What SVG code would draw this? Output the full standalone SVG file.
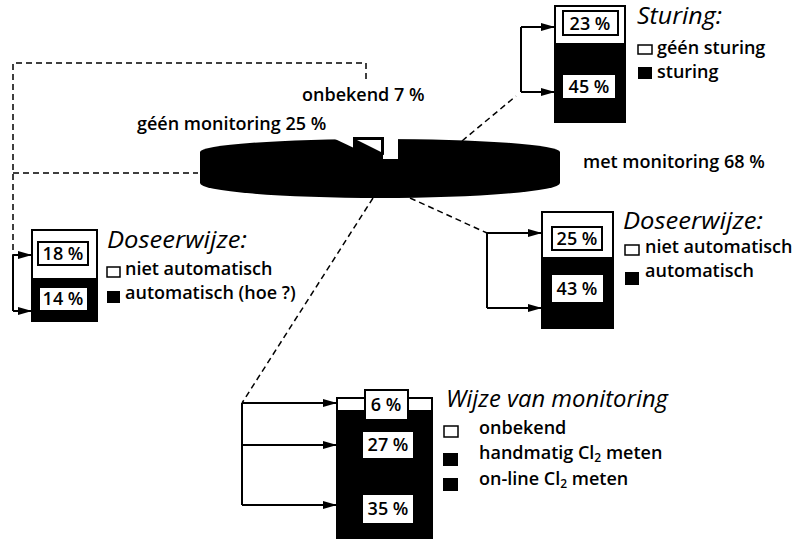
<svg xmlns="http://www.w3.org/2000/svg" width="805" height="539" viewBox="0 0 805 539">
  <style>
    text { font-family: "Open Sans", "Liberation Sans", sans-serif; fill: #000; }
    .lbl { font-size: 18px; font-weight: 600; }
    .pct { font-size: 18px; font-weight: 600; text-anchor: middle; }
    .head { font-size: 23px; font-style: italic; }
    .dash { fill: none; stroke: #000; stroke-width: 1.5; stroke-dasharray: 6 4; }
    .solid { fill: none; stroke: #000; stroke-width: 2; }
    .frame { fill: #fff; stroke: #000; stroke-width: 2; }
    .blk { fill: #000; }
    .wbox { fill: #fff; }
    .obox { fill: #fff; stroke: #000; stroke-width: 2; }
    .sw { fill: #fff; stroke: #000; stroke-width: 1.5; }
  </style>
  <defs>
    <marker id="arrow" viewBox="0 0 14 8" refX="14" refY="4" markerWidth="14" markerHeight="8" markerUnits="userSpaceOnUse" orient="auto">
      <path d="M0,0 L14,4 L0,8 Z" fill="#000"/>
    </marker>
  </defs>

  <rect width="805" height="539" fill="#fff"/>

  <!-- connectors -->
  <g id="connectors">
    <path class="dash" d="M366,79 V63 H13 V255"/>
    <path class="dash" d="M13,173 H198"/>
    <path class="dash" d="M462,141 L516,96"/>
    <path class="dash" d="M410,198 L487,233"/>
    <path class="dash" d="M373,198 L242,403"/>
    <path class="solid" d="M521,27 V92" />
    <path class="solid" d="M521,27 H555" marker-end="url(#arrow)"/>
    <path class="solid" d="M521,92 H555" marker-end="url(#arrow)"/>
    <path class="solid" d="M13,255 V311"/>
    <path class="solid" d="M13,255 H32" marker-end="url(#arrow)"/>
    <path class="solid" d="M13,311 H32" marker-end="url(#arrow)"/>
    <path class="solid" d="M487,233 V308"/>
    <path class="solid" d="M487,233 H542" marker-end="url(#arrow)"/>
    <path class="solid" d="M487,308 H542" marker-end="url(#arrow)"/>
    <path class="solid" d="M242,403 V505"/>
    <path class="solid" d="M242,403 H337" marker-end="url(#arrow)"/>
    <path class="solid" d="M242,445 H337" marker-end="url(#arrow)"/>
    <path class="solid" d="M242,505 H337" marker-end="url(#arrow)"/>
  </g>

  <!-- pie chart: thick disc with the 'onbekend' slice lifted out -->
  <g id="pie">
    <ellipse class="blk" cx="380" cy="183" rx="180" ry="15"/>
    <rect class="blk" x="200" y="152" width="360" height="31"/>
    <ellipse class="blk" cx="380" cy="152" rx="180" ry="13"/>
    <polygon fill="#fff" points="333,120 354,120 354,148 335,139"/>
    <rect fill="#fff" x="383" y="120" width="15" height="39"/>
    <polygon class="blk" points="353,137 384,137 384,155 353,148"/>
    <polygon fill="#fff" points="357,140 381,140 381,152"/>
    <text class="lbl" x="302" y="101">onbekend 7 %</text>
    <text class="lbl" x="137" y="130">géén monitoring 25 %</text>
    <text class="lbl" x="583" y="168">met monitoring 68 %</text>
  </g>

  <!-- Sturing -->
  <g id="sturing">
    <rect class="frame" x="555" y="6" width="70" height="116"/>
    <rect class="blk" x="555" y="43" width="70" height="79"/>
    <rect class="obox" x="563" y="11" width="55" height="24"/>
    <text class="pct" x="590" y="30">23 %</text>
    <rect class="wbox" x="563" y="75" width="52" height="23"/>
    <text class="pct" x="589" y="93">45 %</text>
    <text class="head" x="637" y="24" font-size="21" textLength="85" lengthAdjust="spacingAndGlyphs">Sturing:</text>
    <rect class="sw" x="638" y="45" width="14" height="9"/>
    <text class="lbl" x="657" y="54">géén sturing</text>
    <rect class="blk" x="638" y="67" width="14" height="12"/>
    <text class="lbl" x="657" y="78">sturing</text>
  </g>

  <!-- Doseerwijze (zonder monitoring) -->
  <g id="doseerwijze-links">
    <rect class="frame" x="32" y="230" width="65" height="91"/>
    <rect class="blk" x="32" y="278" width="65" height="43"/>
    <rect class="obox" x="38" y="242" width="50" height="23"/>
    <text class="pct" x="63" y="260">18 %</text>
    <rect class="wbox" x="40" y="288" width="47" height="22"/>
    <text class="pct" x="63" y="305">14 %</text>
    <text class="head" x="107" y="248" textLength="140" lengthAdjust="spacingAndGlyphs">Doseerwijze:</text>
    <rect class="sw" x="107" y="267" width="13" height="10"/>
    <text class="lbl" x="125" y="275">niet automatisch</text>
    <rect class="blk" x="107" y="291" width="13" height="12"/>
    <text class="lbl" x="125" y="299">automatisch (hoe ?)</text>
  </g>

  <!-- Doseerwijze (met monitoring) -->
  <g id="doseerwijze-rechts">
    <rect class="frame" x="542" y="212" width="71" height="116"/>
    <rect class="blk" x="542" y="257" width="71" height="71"/>
    <rect class="obox" x="552" y="227" width="50" height="23"/>
    <text class="pct" x="577" y="245">25 %</text>
    <rect class="wbox" x="552" y="275" width="51" height="27"/>
    <text class="pct" x="577" y="295">43 %</text>
    <text class="head" x="623" y="229" textLength="140" lengthAdjust="spacingAndGlyphs">Doseerwijze:</text>
    <rect class="sw" x="625" y="245" width="14" height="10"/>
    <text class="lbl" x="645" y="253">niet automatisch</text>
    <rect class="blk" x="625" y="272" width="14" height="13"/>
    <text class="lbl" x="645" y="277">automatisch</text>
  </g>

  <!-- Wijze van monitoring -->
  <g id="wijze-van-monitoring">
    <rect class="frame" x="337" y="398" width="95" height="140"/>
    <rect class="blk" x="337" y="410" width="95" height="128"/>
    <rect class="obox" x="365" y="390" width="43" height="30"/>
    <text class="pct" x="386" y="411">6 %</text>
    <rect class="wbox" x="363" y="432" width="50" height="26"/>
    <text class="pct" x="388" y="451">27 %</text>
    <rect class="wbox" x="363" y="495" width="50" height="28"/>
    <text class="pct" x="388" y="515">35 %</text>
    <text class="head" x="446" y="407" textLength="222" lengthAdjust="spacingAndGlyphs">Wijze van monitoring</text>
    <rect class="sw" x="444" y="426" width="14" height="11"/>
    <text class="lbl" x="479" y="434">onbekend</text>
    <rect class="blk" x="443" y="453" width="15" height="13"/>
    <text class="lbl" x="479" y="459">handmatig Cl<tspan font-size="12" dy="3">2</tspan><tspan dy="-3"> meten</tspan></text>
    <rect class="blk" x="443" y="478" width="15" height="13"/>
    <text class="lbl" x="479" y="485">on-line Cl<tspan font-size="12" dy="3">2</tspan><tspan dy="-3"> meten</tspan></text>
  </g>
</svg>
